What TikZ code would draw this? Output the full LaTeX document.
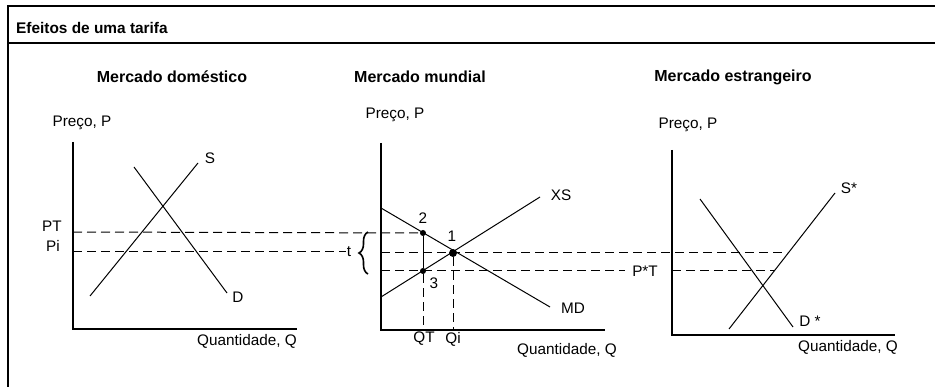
\documentclass[tikz,border=0pt]{standalone}
\usepackage{fontspec}
\setmainfont{Liberation Sans}
\usetikzlibrary{decorations.pathreplacing}
\begin{document}
\begin{tikzpicture}[x=1pt,y=-1pt,
  lbl/.style={font=\fontsize{15.3}{17}\selectfont, inner sep=0pt},
  ttl/.style={font=\bfseries\fontsize{16}{18}\selectfont, inner sep=0pt},
  hdr/.style={font=\bfseries\fontsize{15.4}{18}\selectfont, inner sep=0pt},
  curve/.style={line width=1pt},
  axis/.style={line width=1.4pt},
  guide/.style={line width=1pt, dash pattern=on 9pt off 5pt},
  dot/.style={circle, fill, inner sep=0pt, minimum size=6pt},
  bigdot/.style={circle, fill, inner sep=0pt, minimum size=8pt}]
\useasboundingbox (0,0) rectangle (935,387);
% frame
\draw[line width=1.2pt] (935,6) -- (8,6) -- (8,387);
\draw[line width=1.2pt] (8,43) -- (935,43);
\node[hdr, anchor=west] (title) at (16,28) {Efeitos de uma tarifa};
\node[ttl] (t1) at (172,77) {Mercado doméstico};
\node[ttl] (t2) at (420,77) {Mercado mundial};
\node[ttl] (t3) at (733,77) {Mercado estrangeiro};

% ---------- panel 1 ----------
\coordinate (o1) at (73,329);
\draw[axis] (73,142) -- (o1) -- (297,329);
\node[lbl] (p1) at (82,123) {Preço, P};
\node[lbl] (q1) at (247,341) {Quantidade, Q};
\coordinate (s1a) at (90,296); \coordinate (s1b) at (198,163);
\coordinate (d1a) at (134,167); \coordinate (d1b) at (227,293);
\draw[curve] (s1a) -- (s1b);
\draw[curve] (d1a) -- (d1b);
\node[lbl] (S) at (210,158) {S};
\node[lbl] (D) at (238,297) {D};
\node[lbl, anchor=east] (PT) at (62,226) {PT};
\node[lbl, anchor=east] (Pi) at (60,246) {Pi};

% ---------- panel 2 ----------
\coordinate (o2) at (381,330);
\draw[axis] (381,143) -- (o2) -- (605,330);
\node[lbl] (p2) at (395,115) {Preço, P};
\node[lbl] (q2) at (567,350) {Quantidade, Q};
\coordinate (xs1) at (381,297); \coordinate (xs2) at (540,197);
\coordinate (md1) at (381,208); \coordinate (md2) at (550,307);
\draw[curve] (xs1) -- (xs2);
\draw[curve] (md1) -- (md2);
\node[lbl] (XS) at (561,195) {XS};
\node[lbl] (MD) at (573,308) {MD};
\node[dot] (n2) at (423,233) {};
\node[bigdot] (n1) at (453,253) {};
\node[dot] (n3) at (423,271) {};
\node[lbl] (l2) at (423,218) {2};
\node[lbl] (l1) at (452,236) {1};
\node[lbl] (l3) at (434,283) {3};
\draw[curve] (n2) -- (n3);
\coordinate (qt) at (423,330); \coordinate (qi) at (453,330);
\draw[guide] (n3) -- (qt);
\draw[guide] (n1) -- (qi);
\node[lbl] (QT) at (424,339) {QT};
\node[lbl] (Qi) at (453,339) {Qi};

% ---------- panel 3 ----------
\coordinate (o3) at (672,335);
\draw[axis] (672,150) -- (o3) -- (895,335);
\node[lbl] (p3) at (688,125) {Preço, P};
\node[lbl] (q3) at (848,347) {Quantidade, Q};
\coordinate (ds1) at (700,199); \coordinate (ds2) at (793,327);
\coordinate (ss1) at (729,329); \coordinate (ss2) at (835,193);
\draw[curve] (ds1) -- (ds2);
\draw[curve] (ss1) -- (ss2);
\node[lbl] (Sst) at (849,188) {S*};
\node[lbl] (Dst) at (810,321) {D *};

% ---------- guide lines ----------
\draw[guide] (73,232) -- (n2);
\node[lbl] (tt) at (349,252) {t};
\draw[guide] (73,252) -- ([xshift=-1pt]tt.west);
\draw[decorate, decoration={brace, amplitude=9pt}, line width=1.6pt] (368,274) -- (368,232);
\draw[guide] (381,253) -- (787,253);
\draw[guide] (381,271) -- (625,271);
\node[lbl] (PsT) at (645,271) {P*T};
\draw[guide] (672,271) -- (774,271);
\end{tikzpicture}
\end{document}
